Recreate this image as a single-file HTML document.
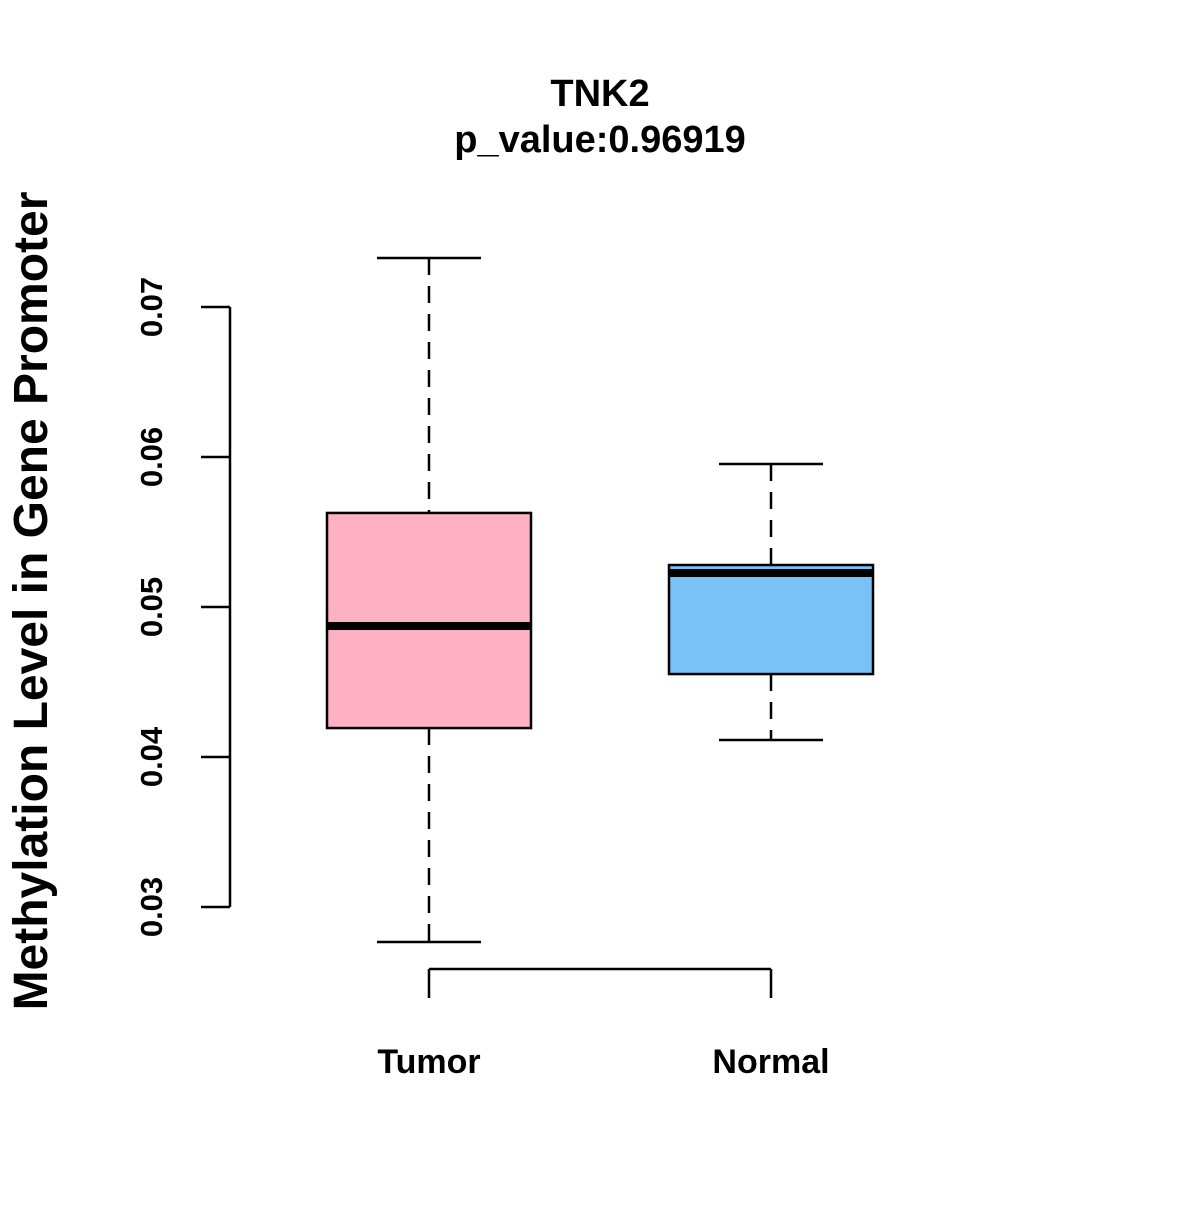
<!DOCTYPE html>
<html><head><meta charset="utf-8"><style>
html,body{margin:0;padding:0;background:#fff}
svg text{font-family:"Liberation Sans",Arial,sans-serif;font-weight:bold;fill:#000}
</style></head><body>
<svg id="chart" width="1200" height="1200" xmlns="http://www.w3.org/2000/svg">
<text x="600" y="106" font-size="38" text-anchor="middle">TNK2</text>
<text x="600" y="152" font-size="38" text-anchor="middle">p_value:0.96919</text>
<text transform="translate(47,601) rotate(-90)" font-size="48" text-anchor="middle">Methylation Level in Gene Promoter</text>
<g id="plot"></g>
</svg>
<script>
const categories = ["Tumor", "Normal"];
const whiskerLow = [0.02767, 0.04113];
const q1 = [0.04193, 0.04553];
const median = [0.04873, 0.05227];
const q3 = [0.05627, 0.0528];
const whiskerHigh = [0.07327, 0.05953];
const colors = ["#FDB1C3", "#78C2F8"];
const yTicks = [0.03, 0.04, 0.05, 0.06, 0.07];
const yTickLabels = ["0.03", "0.04", "0.05", "0.06", "0.07"];

const NS = "http://www.w3.org/2000/svg";
const g = document.getElementById("plot");
function y(v){ return 907 - (v - 0.03) * 15000; }
function x(i){ return 429 + i * 342; }
function mk(tag, attrs){ const e = document.createElementNS(NS, tag); for (const k in attrs) e.setAttribute(k, attrs[k]); g.appendChild(e); return e; }

let ax = mk("line", {x1:230, x2:230, y1:y(yTicks[0]), y2:y(yTicks[yTicks.length-1]), stroke:"#000", "stroke-width":2.5});


yTicks.forEach((t, i) => {
  const l = mk("line", {x1:201, x2:230, y1:y(t), y2:y(t), stroke:"#000", "stroke-width":2.5});
  
  
  const tx = mk("text", {transform:`translate(162,${y(t)}) rotate(-90)`, "font-size":31, "text-anchor":"middle"});
  tx.textContent = yTickLabels[i];
  
  
});

let xa = mk("line", {x1:x(0), x2:x(categories.length-1), y1:969, y2:969, stroke:"#000", "stroke-width":2.5});


categories.forEach((c, i) => {
  const l = mk("line", {x1:x(i), x2:x(i), y1:969, y2:998, stroke:"#000", "stroke-width":2.5});
  
  
  const tx = mk("text", {x:x(i), y:1073, "font-size":34, "text-anchor":"middle"});
  tx.textContent = c;
  
  

  const cx = x(i);
  const w1 = mk("line", {x1:cx, x2:cx, y1:y(whiskerHigh[i]), y2:y(q3[i]), stroke:"#000", "stroke-width":2.5, "stroke-dasharray":"17,11"});
  
  
  const w2 = mk("line", {x1:cx, x2:cx, y1:y(q1[i]), y2:y(whiskerLow[i]), stroke:"#000", "stroke-width":2.5, "stroke-dasharray":"17,11"});
  
  
  const c1 = mk("line", {x1:cx-52, x2:cx+52, y1:y(whiskerHigh[i]), y2:y(whiskerHigh[i]), stroke:"#000", "stroke-width":2.5});
  
  
  const c2 = mk("line", {x1:cx-52, x2:cx+52, y1:y(whiskerLow[i]), y2:y(whiskerLow[i]), stroke:"#000", "stroke-width":2.5});
  
  
  const b = mk("rect", {x:cx-102, y:y(q3[i]), width:204, height:y(q1[i])-y(q3[i]), fill:colors[i], stroke:"#000", "stroke-width":2.5});
  
  
  const m = mk("line", {x1:cx-102, x2:cx+102, y1:y(median[i]), y2:y(median[i]), stroke:"#000", "stroke-width":8});
  
  
});
</script>
</body></html>
